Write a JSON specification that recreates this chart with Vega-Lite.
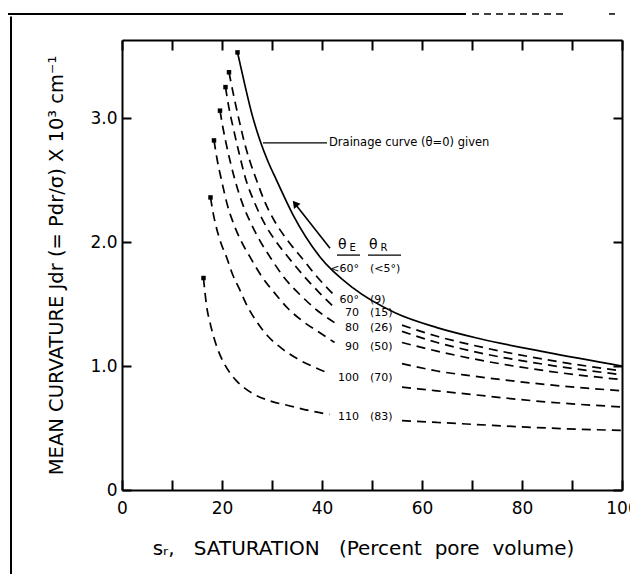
{
  "$schema": "https://vega.github.io/schema/vega-lite/v6.json",
  "width": 500,
  "height": 450,
  "autosize": {"type": "none"},
  "padding": {"left": 122, "top": 40, "right": 8, "bottom": 84},
  "background": "white",
  "config": {
    "view": {"stroke": null},
    "font": "DejaVu Sans",
    "axis": {"grid": false, "domainColor": "#000", "tickColor": "#000", "labelColor": "#000", "titleColor": "#000", "domainWidth": 2, "tickWidth": 2, "titleFontWeight": "normal"}
  },
  "datasets": {
    "curves": [
      {"curve": "0", "part": "a", "x": 23.1, "y": 3.53}, {"curve": "0", "part": "a", "x": 24.5, "y": 3.28}, {"curve": "0", "part": "a", "x": 26, "y": 3.03}, {"curve": "0", "part": "a", "x": 27.6, "y": 2.82}, {"curve": "0", "part": "a", "x": 29.2, "y": 2.65}, {"curve": "0", "part": "a", "x": 30.9, "y": 2.5}, {"curve": "0", "part": "a", "x": 34.2, "y": 2.22}, {"curve": "0", "part": "a", "x": 39.6, "y": 1.88}, {"curve": "0", "part": "a", "x": 46.2, "y": 1.63}, {"curve": "0", "part": "a", "x": 54.6, "y": 1.43}, {"curve": "0", "part": "a", "x": 63, "y": 1.31}, {"curve": "0", "part": "a", "x": 71.6, "y": 1.22}, {"curve": "0", "part": "a", "x": 85, "y": 1.11}, {"curve": "0", "part": "a", "x": 100, "y": 1.0},

      {"curve": "60", "part": "a", "x": 21.4, "y": 3.37}, {"curve": "60", "part": "a", "x": 22.5, "y": 3.15}, {"curve": "60", "part": "a", "x": 23.5, "y": 2.97}, {"curve": "60", "part": "a", "x": 24.5, "y": 2.8}, {"curve": "60", "part": "a", "x": 25.6, "y": 2.65}, {"curve": "60", "part": "a", "x": 26.9, "y": 2.5}, {"curve": "60", "part": "a", "x": 28.5, "y": 2.33}, {"curve": "60", "part": "a", "x": 30.5, "y": 2.17}, {"curve": "60", "part": "a", "x": 33, "y": 2.02}, {"curve": "60", "part": "a", "x": 36.2, "y": 1.86}, {"curve": "60", "part": "a", "x": 39, "y": 1.72}, {"curve": "60", "part": "a", "x": 42.5, "y": 1.57},
      {"curve": "60", "part": "b", "x": 56, "y": 1.33}, {"curve": "60", "part": "b", "x": 63, "y": 1.24}, {"curve": "60", "part": "b", "x": 70, "y": 1.17}, {"curve": "60", "part": "b", "x": 85, "y": 1.05}, {"curve": "60", "part": "b", "x": 100, "y": 0.96},

      {"curve": "70", "part": "a", "x": 20.7, "y": 3.25}, {"curve": "70", "part": "a", "x": 21.4, "y": 3.08}, {"curve": "70", "part": "a", "x": 22.2, "y": 2.93}, {"curve": "70", "part": "a", "x": 23.4, "y": 2.72}, {"curve": "70", "part": "a", "x": 24.8, "y": 2.5}, {"curve": "70", "part": "a", "x": 26.5, "y": 2.32}, {"curve": "70", "part": "a", "x": 28.5, "y": 2.15}, {"curve": "70", "part": "a", "x": 30.7, "y": 2.01}, {"curve": "70", "part": "a", "x": 33.2, "y": 1.88}, {"curve": "70", "part": "a", "x": 36.5, "y": 1.72}, {"curve": "70", "part": "a", "x": 39.5, "y": 1.59}, {"curve": "70", "part": "a", "x": 42.5, "y": 1.47},
      {"curve": "70", "part": "b", "x": 56, "y": 1.28}, {"curve": "70", "part": "b", "x": 63, "y": 1.19}, {"curve": "70", "part": "b", "x": 70, "y": 1.12}, {"curve": "70", "part": "b", "x": 85, "y": 1.01}, {"curve": "70", "part": "b", "x": 100, "y": 0.93},

      {"curve": "80", "part": "a", "x": 19.6, "y": 3.06}, {"curve": "80", "part": "a", "x": 20.2, "y": 2.92}, {"curve": "80", "part": "a", "x": 20.8, "y": 2.8}, {"curve": "80", "part": "a", "x": 21.7, "y": 2.64}, {"curve": "80", "part": "a", "x": 22.6, "y": 2.5}, {"curve": "80", "part": "a", "x": 24, "y": 2.32}, {"curve": "80", "part": "a", "x": 25.8, "y": 2.15}, {"curve": "80", "part": "a", "x": 27.6, "y": 2.01}, {"curve": "80", "part": "a", "x": 29.6, "y": 1.88}, {"curve": "80", "part": "a", "x": 32.5, "y": 1.71}, {"curve": "80", "part": "a", "x": 36, "y": 1.56}, {"curve": "80", "part": "a", "x": 39, "y": 1.45}, {"curve": "80", "part": "a", "x": 42.5, "y": 1.35},
      {"curve": "80", "part": "b", "x": 56, "y": 1.19}, {"curve": "80", "part": "b", "x": 63, "y": 1.12}, {"curve": "80", "part": "b", "x": 70, "y": 1.06}, {"curve": "80", "part": "b", "x": 85, "y": 0.96}, {"curve": "80", "part": "b", "x": 100, "y": 0.89},

      {"curve": "90", "part": "a", "x": 18.4, "y": 2.82}, {"curve": "90", "part": "a", "x": 19.1, "y": 2.65}, {"curve": "90", "part": "a", "x": 19.9, "y": 2.5}, {"curve": "90", "part": "a", "x": 21, "y": 2.31}, {"curve": "90", "part": "a", "x": 22.3, "y": 2.15}, {"curve": "90", "part": "a", "x": 23.8, "y": 2.01}, {"curve": "90", "part": "a", "x": 25.6, "y": 1.88}, {"curve": "90", "part": "a", "x": 28, "y": 1.72}, {"curve": "90", "part": "a", "x": 30.5, "y": 1.59}, {"curve": "90", "part": "a", "x": 33.3, "y": 1.46}, {"curve": "90", "part": "a", "x": 36.2, "y": 1.36}, {"curve": "90", "part": "a", "x": 39.5, "y": 1.27}, {"curve": "90", "part": "a", "x": 42.5, "y": 1.19},
      {"curve": "90", "part": "b", "x": 56, "y": 1.02}, {"curve": "90", "part": "b", "x": 63, "y": 0.96}, {"curve": "90", "part": "b", "x": 70, "y": 0.92}, {"curve": "90", "part": "b", "x": 85, "y": 0.85}, {"curve": "90", "part": "b", "x": 100, "y": 0.8},

      {"curve": "100", "part": "a", "x": 17.7, "y": 2.36}, {"curve": "100", "part": "a", "x": 18.2, "y": 2.24}, {"curve": "100", "part": "a", "x": 18.8, "y": 2.13}, {"curve": "100", "part": "a", "x": 19.8, "y": 1.99}, {"curve": "100", "part": "a", "x": 20.9, "y": 1.88}, {"curve": "100", "part": "a", "x": 22.1, "y": 1.74}, {"curve": "100", "part": "a", "x": 23.5, "y": 1.62}, {"curve": "100", "part": "a", "x": 25.1, "y": 1.48}, {"curve": "100", "part": "a", "x": 26.9, "y": 1.36}, {"curve": "100", "part": "a", "x": 29.2, "y": 1.24}, {"curve": "100", "part": "a", "x": 32, "y": 1.14}, {"curve": "100", "part": "a", "x": 35, "y": 1.06}, {"curve": "100", "part": "a", "x": 38.5, "y": 0.99}, {"curve": "100", "part": "a", "x": 41.5, "y": 0.94},
      {"curve": "100", "part": "b", "x": 56, "y": 0.83}, {"curve": "100", "part": "b", "x": 63, "y": 0.8}, {"curve": "100", "part": "b", "x": 70, "y": 0.77}, {"curve": "100", "part": "b", "x": 85, "y": 0.71}, {"curve": "100", "part": "b", "x": 100, "y": 0.67},

      {"curve": "110", "part": "a", "x": 16.3, "y": 1.71}, {"curve": "110", "part": "a", "x": 16.6, "y": 1.59}, {"curve": "110", "part": "a", "x": 16.9, "y": 1.49}, {"curve": "110", "part": "a", "x": 17.6, "y": 1.35}, {"curve": "110", "part": "a", "x": 18.3, "y": 1.24}, {"curve": "110", "part": "a", "x": 19.2, "y": 1.13}, {"curve": "110", "part": "a", "x": 20.3, "y": 1.03}, {"curve": "110", "part": "a", "x": 21.5, "y": 0.95}, {"curve": "110", "part": "a", "x": 22.9, "y": 0.88}, {"curve": "110", "part": "a", "x": 24.6, "y": 0.82}, {"curve": "110", "part": "a", "x": 26.5, "y": 0.77}, {"curve": "110", "part": "a", "x": 29.5, "y": 0.72}, {"curve": "110", "part": "a", "x": 33.4, "y": 0.68}, {"curve": "110", "part": "a", "x": 37.5, "y": 0.64}, {"curve": "110", "part": "a", "x": 41.5, "y": 0.61},
      {"curve": "110", "part": "b", "x": 56, "y": 0.56}, {"curve": "110", "part": "b", "x": 63, "y": 0.545}, {"curve": "110", "part": "b", "x": 70, "y": 0.53}, {"curve": "110", "part": "b", "x": 85, "y": 0.5}, {"curve": "110", "part": "b", "x": 100, "y": 0.48}
    ],
    "labels": [
      {"te": "<60°", "tr": "(<5°)", "y": 1.78},
      {"te": "60°", "tr": "(9)", "y": 1.53},
      {"te": "70", "tr": "(15)", "y": 1.43},
      {"te": "80", "tr": "(26)", "y": 1.31},
      {"te": "90", "tr": "(50)", "y": 1.15},
      {"te": "100", "tr": "(70)", "y": 0.9},
      {"te": "110", "tr": "(83)", "y": 0.59}
    ],
    "header": [
      {"sym": "θ", "sub": "E", "x": 43.2, "xs": 45.5, "x1": 43.0, "x2": 47.6},
      {"sym": "θ", "sub": "R", "x": 49.4, "xs": 51.7, "x1": 49.2, "x2": 55.8}
    ],
    "arrow": [
      {"x": 41.6, "y": 1.95},
      {"x": 34.6, "y": 2.31}
    ],
    "frame": [
      {"x": -22.8, "x2": 68.8, "y": 3.84, "y2": 3.84},
      {"x": -22.2, "x2": -22.2, "y": 3.82, "y2": -0.7}
    ],
    "frameBroken": [
      {"x": 70, "x2": 88.6, "y": 3.84, "y2": 3.84},
      {"x": 97.4, "x2": 98.6, "y": 3.84, "y2": 3.84}
    ]
  },
  "resolve": {"axis": {"x": "independent", "y": "independent"}},
  "layer": [
    {
      "data": {"name": "curves"},
      "transform": [{"filter": "datum.curve !== '0'"}],
      "mark": {"type": "line", "interpolate": "monotone", "strokeDash": [9, 6], "strokeWidth": 1.7, "color": "#000"},
      "encoding": {
        "x": {
          "field": "x", "type": "quantitative",
          "scale": {"domain": [0, 100], "nice": false, "zero": false},
          "axis": {
            "orient": "bottom",
            "values": [0, 10, 20, 30, 40, 50, 60, 70, 80, 90, 100],
            "labelExpr": "datum.value % 20 === 0 ? datum.label : ''",
            "format": "d",
            "tickSize": -10,
            "labelPadding": 20,
            "labelFontSize": 17,
            "labelFlush": false,
            "labelOverlap": false,
            "title": "sᵣ,\u00a0\u00a0 SATURATION\u00a0\u00a0 (Percent\u00a0 pore\u00a0 volume)",
            "titleFontSize": 20,
            "titleX": 241,
            "titleY": 58,
            "titleAlign": "center",
            "titleBaseline": "middle"
          }
        },
        "y": {
          "field": "y", "type": "quantitative",
          "scale": {"domain": [0, 3.63], "nice": false, "zero": false},
          "axis": {
            "orient": "left",
            "values": [0, 1, 2, 3],
            "labelExpr": "datum.value === 0 ? '0' : format(datum.value, '.1f')",
            "tickSize": -9,
            "labelPadding": 14,
            "labelFontSize": 17,
            "labelFlush": false,
            "title": "MEAN CURVATURE  Jdr (= Pdr/σ) X 10³ cm⁻¹",
            "titleFontSize": 19.5,
            "titleAngle": -90,
            "titleX": -66,
            "titleY": 225,
            "titleAlign": "center",
            "titleBaseline": "middle"
          }
        },
        "detail": [{"field": "curve"}, {"field": "part"}],
        "order": {"field": "x", "type": "quantitative"}
      }
    },
    {
      "data": {"name": "curves"},
      "transform": [{"filter": "datum.curve === '0'"}],
      "mark": {"type": "line", "interpolate": "monotone", "strokeWidth": 1.7, "color": "#000"},
      "encoding": {
        "x": {
          "field": "x", "type": "quantitative",
          "axis": {"orient": "top", "values": [0, 10, 20, 30, 40, 50, 60, 70, 80, 90, 100], "labels": false, "tickSize": -10, "title": null}
        },
        "y": {
          "field": "y", "type": "quantitative",
          "axis": {"orient": "right", "values": [0, 1, 2, 3], "labels": false, "tickSize": -9, "title": null}
        },
        "order": {"field": "x", "type": "quantitative"}
      }
    },
    {
      "data": {"name": "curves"},
      "transform": [
        {"joinaggregate": [{"op": "min", "field": "x", "as": "xmin"}], "groupby": ["curve"]},
        {"filter": "datum.x === datum.xmin"}
      ],
      "mark": {"type": "point", "shape": "square", "filled": true, "size": 20, "color": "#000", "opacity": 1},
      "encoding": {
        "x": {"field": "x", "type": "quantitative", "axis": null},
        "y": {"field": "y", "type": "quantitative", "axis": null}
      }
    },
    {
      "data": {"name": "arrow"},
      "mark": {"type": "line", "strokeWidth": 1.6, "color": "#000"},
      "encoding": {
        "x": {"field": "x", "type": "quantitative", "axis": null},
        "y": {"field": "y", "type": "quantitative", "axis": null}
      }
    },
    {
      "data": {"name": "arrow"},
      "transform": [{"filter": "datum.x < 40"}],
      "mark": {"type": "point", "shape": "triangle-up", "filled": true, "size": 70, "angle": 321, "color": "#000", "opacity": 1},
      "encoding": {
        "x": {"field": "x", "type": "quantitative", "axis": null},
        "y": {"field": "y", "type": "quantitative", "axis": null}
      }
    },
    {
      "data": {"values": [{"x": 28.2, "x2": 41, "y": 2.8, "text": "Drainage curve (θ=0) given"}]},
      "layer": [
        {
          "mark": {"type": "rule", "strokeWidth": 1.4, "color": "#000"},
          "encoding": {
            "x": {"field": "x", "type": "quantitative", "axis": null},
            "x2": {"field": "x2"},
            "y": {"field": "y", "type": "quantitative", "axis": null}
          }
        },
        {
          "mark": {"type": "text", "align": "left", "baseline": "middle", "dx": 2, "fontSize": 11.5, "color": "#000"},
          "encoding": {
            "x": {"field": "x2", "type": "quantitative", "axis": null},
            "y": {"field": "y", "type": "quantitative", "axis": null},
            "text": {"field": "text"}
          }
        }
      ]
    },
    {
      "data": {"name": "header"},
      "layer": [
        {
          "mark": {"type": "text", "align": "left", "baseline": "middle", "fontSize": 14, "color": "#000"},
          "encoding": {
            "x": {"field": "x", "type": "quantitative", "axis": null},
            "y": {"datum": 1.98, "type": "quantitative", "axis": null},
            "text": {"field": "sym"}
          }
        },
        {
          "mark": {"type": "text", "align": "left", "baseline": "middle", "fontSize": 10, "color": "#000"},
          "encoding": {
            "x": {"field": "xs", "type": "quantitative", "axis": null},
            "y": {"datum": 1.95, "type": "quantitative", "axis": null},
            "text": {"field": "sub"}
          }
        },
        {
          "mark": {"type": "rule", "strokeWidth": 1.3, "color": "#000"},
          "encoding": {
            "x": {"field": "x1", "type": "quantitative", "axis": null},
            "x2": {"field": "x2"},
            "y": {"datum": 1.895, "type": "quantitative", "axis": null}
          }
        }
      ]
    },
    {
      "data": {"name": "labels"},
      "layer": [
        {
          "mark": {"type": "text", "align": "right", "baseline": "middle", "fontSize": 11, "color": "#000"},
          "encoding": {
            "x": {"datum": 47.4, "type": "quantitative", "axis": null},
            "y": {"field": "y", "type": "quantitative", "axis": null},
            "text": {"field": "te"}
          }
        },
        {
          "mark": {"type": "text", "align": "left", "baseline": "middle", "fontSize": 11, "color": "#000"},
          "encoding": {
            "x": {"datum": 49.6, "type": "quantitative", "axis": null},
            "y": {"field": "y", "type": "quantitative", "axis": null},
            "text": {"field": "tr"}
          }
        }
      ]
    },
    {
      "data": {"name": "frame"},
      "mark": {"type": "rule", "strokeWidth": 2, "color": "#000"},
      "encoding": {
        "x": {"field": "x", "type": "quantitative", "axis": null},
        "x2": {"field": "x2"},
        "y": {"field": "y", "type": "quantitative", "axis": null},
        "y2": {"field": "y2"}
      }
    },
    {
      "data": {"name": "frameBroken"},
      "mark": {"type": "rule", "strokeWidth": 1.5, "strokeDash": [7, 5], "color": "#000"},
      "encoding": {
        "x": {"field": "x", "type": "quantitative", "axis": null},
        "x2": {"field": "x2"},
        "y": {"field": "y", "type": "quantitative", "axis": null},
        "y2": {"field": "y2"}
      }
    }
  ]
}
